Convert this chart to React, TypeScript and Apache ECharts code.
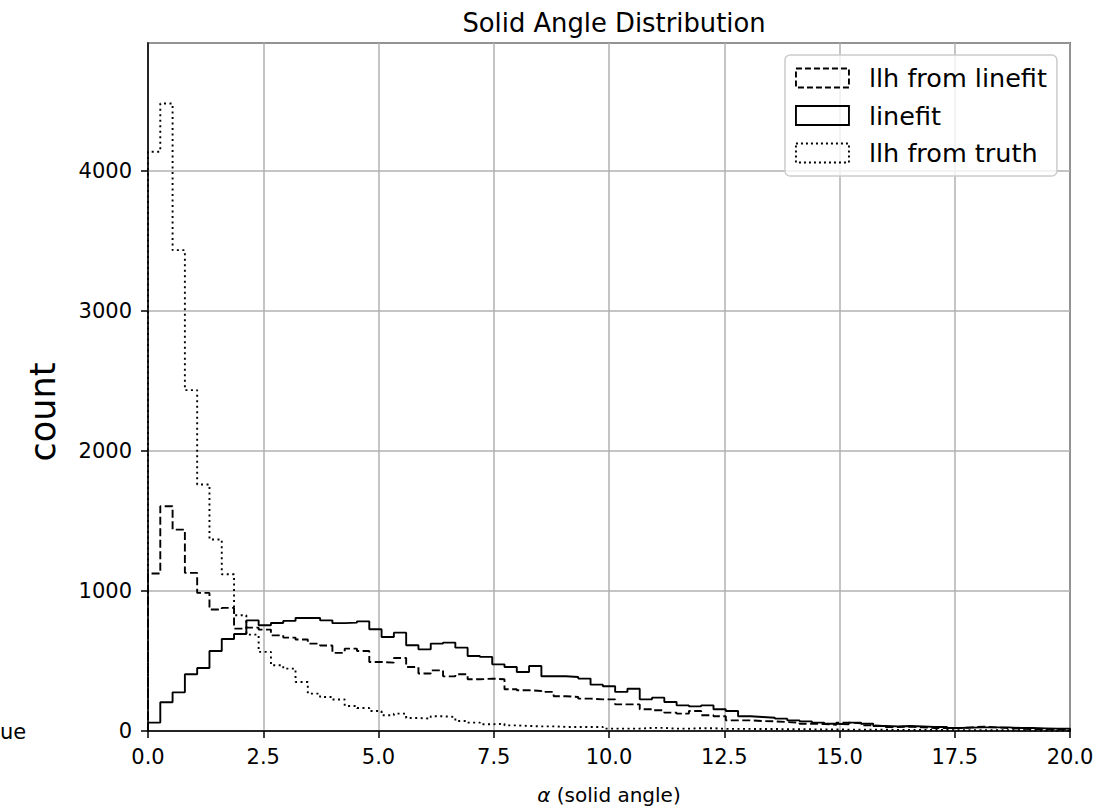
import React, { useEffect, useRef } from "react";
import * as echarts from "echarts";

const BIN_COUNT = 75;
const X_MIN = 0;
const X_MAX = 20;

const xTicks = [0, 2.5, 5, 7.5, 10, 12.5, 15, 17.5, 20];
const yTicks = [0, 1000, 2000, 3000, 4000];

const seriesNames = ["llh from linefit", "linefit", "llh from truth"];

const llhFromLinefit = [
  1124, 1605, 1438, 1129, 986, 867, 879, 731, 738, 724, 683, 667, 653, 624, 610,
  558, 588, 571, 493, 488, 521, 457, 410, 433, 390, 405, 369, 374, 369, 298,
  291, 286, 279, 248, 243, 231, 226, 226, 190, 190, 155, 148, 131, 124, 143,
  112, 105, 76, 76, 71, 69, 64, 60, 52, 50, 45, 60, 55, 40, 36,
  29, 31, 26, 21, 21, 21, 26, 31, 26, 21, 17, 14, 14, 12, 12,
];

const linefit = [
  60, 205, 276, 405, 450, 571, 657, 693, 790, 755, 771, 786, 807, 807, 790,
  770, 774, 783, 726, 671, 702, 612, 583, 624, 631, 595, 536, 529, 476, 457,
  421, 464, 391, 391, 386, 374, 331, 319, 279, 302, 226, 238, 207, 183, 176,
  183, 155, 143, 105, 100, 95, 88, 76, 69, 60, 52, 48, 60, 52, 36,
  33, 36, 33, 29, 29, 21, 24, 26, 26, 26, 21, 21, 19, 17, 17,
];

const llhFromTruth = [
  4136, 4480, 3433, 2434, 1760, 1367, 1119, 826, 688, 565, 469, 445, 350, 267, 243,
  225, 179, 164, 143, 112, 124, 93, 88, 105, 100, 71, 60, 48, 52, 40,
  36, 33, 33, 29, 29, 29, 29, 17, 17, 17, 22, 22, 17, 17, 20,
  20, 15, 15, 15, 14, 14, 13, 12, 12, 11, 11, 10, 10, 9, 9,
  8, 8, 8, 7, 7, 6, 6, 6, 5, 5, 5, 4, 4, 4, 3,
];

const FONT = "DejaVu Sans, Liberation Sans, sans-serif";

function stepData(values: number[]): [number, number][] {
  const w = (X_MAX - X_MIN) / BIN_COUNT;
  const pts: [number, number][] = [[X_MIN, 0]];
  values.forEach((v, i) => pts.push([X_MIN + i * w, v]));
  pts.push([X_MAX, values[values.length - 1]]);
  pts.push([X_MAX, 0]);
  return pts;
}

export default function App() {
  const ref = useRef<HTMLDivElement>(null);
  useEffect(() => {
    document.body.style.margin = "0";
    if (!ref.current) return;
    const chart = echarts.init(ref.current, undefined, { renderer: "svg" });
    const lineStyles: any[] = [
      { color: "#000", width: 1.9, type: [8, 3.5] },
      { color: "#000", width: 1.9, type: "solid" },
      { color: "#000", width: 1.9, type: [2, 3.5] },
    ];
    const datas = [llhFromLinefit, linefit, llhFromTruth];
    chart.setOption({
      animation: false,
      backgroundColor: "#fff",
      title: {
        text: "Solid Angle Distribution",
        left: 609,
        top: 5,
        textAlign: "center",
        textStyle: { fontFamily: FONT, fontSize: 25.8, fontWeight: "normal", color: "#000" },
      },
      grid: {
        left: 148,
        right: 33,
        top: 43,
        bottom: 80,
        show: true,
        borderColor: "#000",
        borderWidth: 1.5,
        backgroundColor: "transparent",
      },
      legend: {
        orient: "vertical",
        left: 785,
        top: 55,
        padding: [10, 10, 10, 10],
        itemWidth: 53,
        itemHeight: 19,
        itemGap: 11.5,
        icon: "rect",
        backgroundColor: "rgba(255,255,255,0.8)",
        borderColor: "#cccccc",
        borderWidth: 1.5,
        borderRadius: 5,
        selectedMode: false,
        textStyle: {
          fontFamily: FONT,
          fontSize: 25.5,
          lineHeight: 26,
          color: "#000",
          padding: [0, 0, 0, 15],
        },
        data: seriesNames.map((n, i) => ({
          name: n,
          itemStyle: {
            color: "rgba(0,0,0,0)",
            borderColor: "#000",
            borderWidth: 1.9,
            borderType: i === 0 ? [6, 3] : i === 2 ? [2, 3] : "solid",
          },
        })),
      },
      xAxis: {
        type: "value",
        min: X_MIN,
        max: X_MAX,
        interval: xTicks[1] - xTicks[0],
        name: "{a|α} (solid angle)",
        nameLocation: "middle",
        nameGap: 54,
        nameTextStyle: {
          fontFamily: FONT,
          fontSize: 20,
          color: "#000",
          rich: { a: { fontFamily: FONT, fontSize: 20, fontStyle: "italic", color: "#000" } },
        },
        axisLine: { show: true, lineStyle: { color: "#000", width: 1.5 } },
        axisTick: { show: true, inside: false, length: 7, lineStyle: { color: "#000", width: 1.5 } },
        axisLabel: {
          fontFamily: FONT,
          fontSize: 21,
          color: "#000",
          margin: 15,
          formatter: (v: number) => (xTicks.includes(v) ? v.toFixed(1) : ""),
        },
        splitLine: { show: true, lineStyle: { color: "#b0b0b0", width: 1.5 } },
      },
      yAxis: {
        type: "value",
        min: 0,
        max: 4912,
        interval: yTicks[1] - yTicks[0],
        axisLine: { show: true, lineStyle: { color: "#000", width: 1.5 } },
        axisTick: { show: true, inside: false, length: 7, lineStyle: { color: "#000", width: 1.5 } },
        axisLabel: {
          fontFamily: FONT,
          fontSize: 21,
          color: "#000",
          margin: 16,
          showMaxLabel: false,
          formatter: (v: number) => (yTicks.includes(v) ? String(v) : ""),
        },
        splitLine: { show: true, lineStyle: { color: "#b0b0b0", width: 1.5 } },
      },
      graphic: [
        {
          type: "text",
          x: 43,
          y: 412,
          rotation: Math.PI / 2,
          style: {
            text: "count",
            font: `35px ${FONT}`,
            fill: "#000",
            align: "center",
            verticalAlign: "middle",
          },
        },
        {
          type: "text",
          left: 0,
          top: 721,
          style: { text: "ue", font: `21px ${FONT}`, fill: "#000" },
        },
      ],
      series: seriesNames.map((n, i) => ({
        name: n,
        type: "line",
        step: "end",
        showSymbol: false,
        symbol: "none",
        data: stepData(datas[i]),
        lineStyle: lineStyles[i],
        itemStyle: { color: "#000" },
        z: 3,
      })),
    });
    return () => chart.dispose();
  }, []);
  return <div ref={ref} style={{ width: 1103, height: 811 }} />;
}
